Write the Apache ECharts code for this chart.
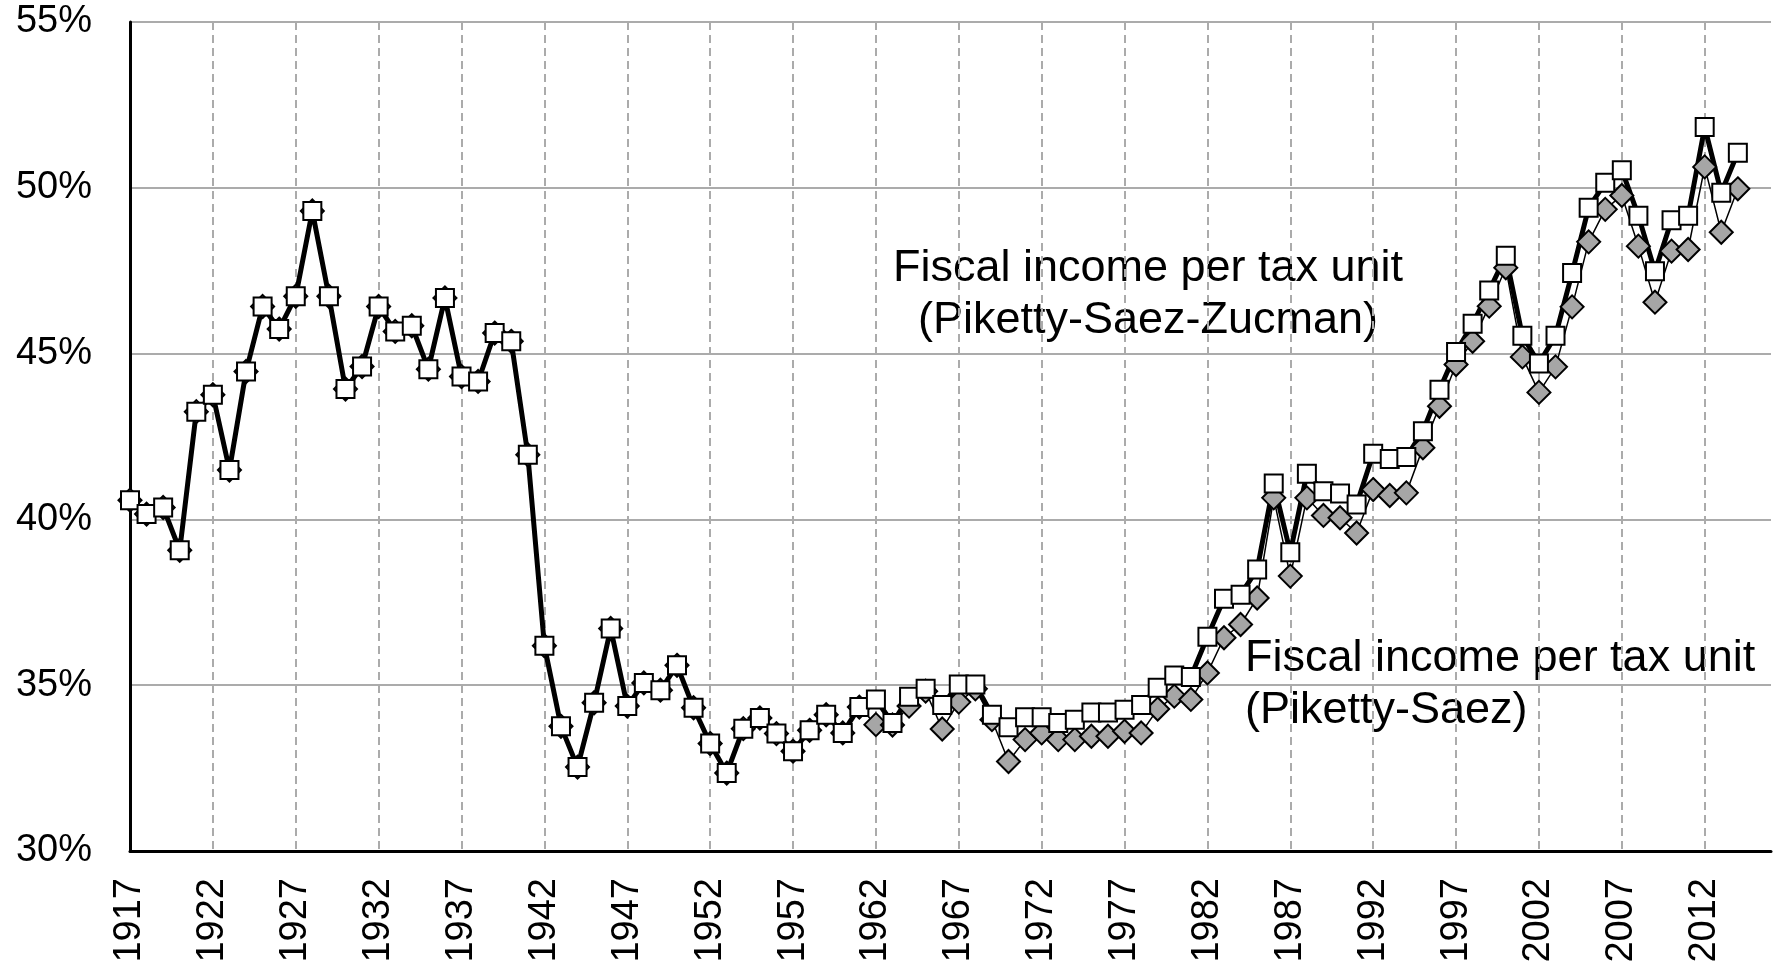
<!DOCTYPE html>
<html>
<head>
<meta charset="utf-8">
<script src="https://cdn.jsdelivr.net/npm/echarts@6/dist/echarts.min.js"></script>
<style>
  html, body { margin: 0; padding: 0; background: #fff; }
  #chart { width: 1781px; height: 968px; }
</style>
</head>
<body>
<div id="chart"></div>
<script>
// years on the category axis (1917..2016, last two have no data)
const years = Array.from({ length: 100 }, (_, i) => String(1917 + i))

// Piketty-Saez-Zucman: white squares, thick line
const pszValues = [
  40.58, 40.16, 40.36, 39.07, 43.25, 43.76, 41.49, 44.46, 46.42, 45.74,
  46.73, 49.30, 46.73, 43.93, 44.61, 46.42, 45.67, 45.84, 44.53, 46.68,
  44.31, 44.16, 45.62, 45.37, 41.95, 36.19, 33.76, 32.53, 34.47, 36.71,
  34.37, 35.07, 34.85, 35.60, 34.32, 33.24, 32.35, 33.69, 34.01, 33.54,
  33.01, 33.64, 34.11, 33.56, 34.34, 34.57, 33.86, 34.65, 34.89, 34.40,
  35.02, 35.02, 34.11, 33.73, 34.03, 34.03, 33.86, 33.96, 34.18, 34.18,
  34.26, 34.40, 34.92, 35.29, 35.25, 36.46, 37.61, 37.73, 38.49, 41.08,
  39.01, 41.38, 40.85, 40.78, 40.45, 41.98, 41.82, 41.88, 42.66, 43.91,
  45.05, 45.90, 46.90, 47.95, 45.54, 44.70, 45.54, 47.43, 49.40, 50.15,
  50.53, 49.16, 47.48, 49.02, 49.16, 51.83, 49.85, 51.06, null, null
]

// Piketty-Saez: grey diamonds, thin line
const psValues = [
  40.58, 40.16, 40.36, 39.07, 43.25, 43.76, 41.49, 44.46, 46.42, 45.74,
  46.73, 49.30, 46.73, 43.93, 44.61, 46.42, 45.67, 45.84, 44.53, 46.68,
  44.31, 44.16, 45.62, 45.37, 41.95, 36.19, 33.76, 32.53, 34.47, 36.71,
  34.37, 35.07, 34.85, 35.60, 34.32, 33.24, 32.35, 33.69, 34.01, 33.54,
  33.01, 33.64, 34.11, 33.56, 34.34, 33.81, 33.80, 34.37, 34.82, 33.68,
  34.49, 34.89, 33.96, 32.70, 33.36, 33.56, 33.36, 33.36, 33.46, 33.46,
  33.61, 33.56, 34.28, 34.67, 34.57, 35.37, 36.43, 36.83, 37.63, 40.65,
  38.29, 40.65, 40.12, 40.05, 39.59, 40.90, 40.72, 40.80, 42.16, 43.41,
  44.67, 45.37, 46.43, 47.59, 44.90, 43.83, 44.60, 46.41, 48.37, 49.35,
  49.77, 48.24, 46.55, 48.09, 48.14, 50.63, 48.66, 49.97, null, null
]

const yMin = 30
const yMax = 55
const yStep = 5

const font = '"Liberation Sans", Arial, sans-serif'

const chart = echarts.init(document.getElementById('chart'))

chart.setOption({
  animation: false,
  backgroundColor: '#fff',
  grid: { left: 130, right: 10, top: 22, bottom: 117, containLabel: false },
  xAxis: {
    type: 'category',
    data: years,
    boundaryGap: false,
    axisLine: { lineStyle: { color: '#000', width: 3 } },
    axisTick: { show: false },
    axisLabel: {
      interval: 4,
      rotate: 90,
      margin: 27,
      color: '#000',
      fontSize: 38,
      fontFamily: font
    },
    splitLine: {
      show: true,
      interval: 4,
      lineStyle: { color: '#ababab', width: 2, type: [8, 5] }
    }
  },
  yAxis: {
    type: 'value',
    min: yMin,
    max: yMax,
    interval: yStep,
    axisLine: { show: true, lineStyle: { color: '#000', width: 3 } },
    axisTick: { show: false },
    axisLabel: {
      formatter: '{value}%',
      margin: 38,
      color: '#000',
      fontSize: 38,
      fontFamily: font
    },
    splitLine: { lineStyle: { color: '#ababab', width: 2 } }
  },
  series: [
    {
      name: 'Piketty-Saez',
      type: 'line',
      data: psValues,
      showAllSymbol: true,
      symbol: 'diamond',
      symbolSize: 23,
      itemStyle: { color: '#a6a6a6', borderColor: '#000', borderWidth: 2 },
      lineStyle: { color: '#000', width: 1.5 }
    },
    {
      name: 'Piketty-Saez-Zucman',
      type: 'line',
      data: pszValues,
      showAllSymbol: true,
      symbol: 'rect',
      symbolSize: 18,
      itemStyle: { color: '#fff', borderColor: '#000', borderWidth: 2 },
      lineStyle: { color: '#000', width: 5 }
    }
  ],
  graphic: [
    {
      type: 'text',
      x: 1148,
      y: 295,
      style: {
        text: 'Fiscal income per tax unit\n(Piketty-Saez-Zucman)',
        font: '45px ' + font,
        fill: '#000',
        align: 'center',
        verticalAlign: 'middle',
        lineHeight: 52
      }
    },
    {
      type: 'text',
      x: 1245,
      y: 685,
      style: {
        text: 'Fiscal income per tax unit\n(Piketty-Saez)',
        font: '45px ' + font,
        fill: '#000',
        align: 'left',
        verticalAlign: 'middle',
        lineHeight: 52
      }
    }
  ]
})
</script>
</body>
</html>
